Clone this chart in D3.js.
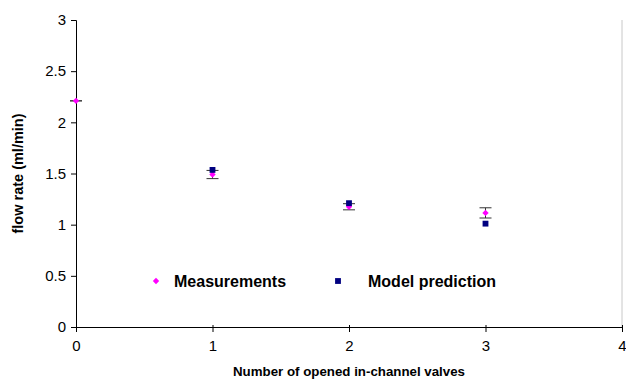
<!DOCTYPE html>
<html>
<head>
<meta charset="utf-8">
<script src="https://cdn.jsdelivr.net/npm/d3@7"></script>
<style>
  body { margin: 0; background: #fff; }
  svg { display: block; font-family: "Liberation Sans", Arial, sans-serif; }
</style>
</head>
<body>
<svg id="chart" width="626" height="381"></svg>
<script>
// Flow rate versus number of opened in-channel valves
const valves = [0, 1, 2, 3];
const measured = [2.21, 1.49, 1.175, 1.115];
const measuredErr = [0.0, 0.04, 0.03, 0.05];
const modelValves = [1, 2, 3];
const modelPred = [1.535, 1.21, 1.01];
const xTicks = [0, 1, 2, 3, 4];
const yTicks = [0, 0.5, 1, 1.5, 2, 2.5, 3];
const yTickLabels = ["0", "0.5", "1", "1.5", "2", "2.5", "3"];
const legendLabels = ["Measurements", "Model prediction"];

const svg = d3.select("#chart");
const plotLeft = 76, plotRight = 622, plotTop = 20, plotBottom = 327;

const x = d3.scaleLinear().domain([0, 4]).range([plotLeft, plotRight]);
const y = d3.scaleLinear().domain([0, 3]).range([plotBottom, plotTop]);

// light frame line on the right side of the plot area
svg.append("line")
  .attr("x1", x(4)).attr("x2", x(4))
  .attr("y1", y(3)).attr("y2", y(0))
  .attr("stroke", "#c8c8c8").attr("stroke-width", 1);

// y axis
const yAxis = d3.axisLeft(y).tickValues(yTicks)
  .tickFormat((d, i) => yTickLabels[i]).tickSize(5).tickPadding(5);
const gy = svg.append("g").attr("transform", `translate(${plotLeft},0)`).call(yAxis);
gy.select(".domain").attr("stroke", "#000");
gy.selectAll(".tick line").attr("stroke", "#000");
gy.selectAll("text").attr("font-size", 15).attr("fill", "#000")
  .attr("font-family", "Liberation Sans, Arial, sans-serif");

// x axis
const xAxis = d3.axisBottom(x).tickValues(xTicks)
  .tickFormat(d3.format("d")).tickSizeInner(5).tickSizeOuter(0).tickPadding(8);
const gx = svg.append("g").attr("transform", `translate(0,${plotBottom})`).call(xAxis);
gx.select(".domain").attr("stroke", "#000");
gx.selectAll(".tick line").attr("stroke", "#000").attr("y1", -2);
gx.selectAll("text").attr("font-size", 15).attr("fill", "#000")
  .attr("font-family", "Liberation Sans, Arial, sans-serif");

// axis titles
svg.append("text")
  .attr("transform", `translate(23,${(plotTop + plotBottom) / 2}) rotate(-90)`)
  .attr("text-anchor", "middle")
  .attr("font-size", 14.5).attr("font-weight", "bold")
  .text("flow rate (ml/min)");
svg.append("text")
  .attr("x", (plotLeft + plotRight) / 2).attr("y", 376)
  .attr("text-anchor", "middle")
  .attr("font-size", 13.3).attr("font-weight", "bold")
  .text("Number of opened in-channel valves");

// error bars for measurements
const eb = svg.append("g").attr("stroke", "#333").attr("stroke-width", 1);
valves.forEach((v, i) => {
  const cx = x(v), y1 = y(measured[i] + measuredErr[i]), y2 = y(measured[i] - measuredErr[i]);
  eb.append("line").attr("x1", cx).attr("x2", cx).attr("y1", y1).attr("y2", y2);
  eb.append("line").attr("x1", cx - 6).attr("x2", cx + 6).attr("y1", y1).attr("y2", y1);
  eb.append("line").attr("x1", cx - 6).attr("x2", cx + 6).attr("y1", y2).attr("y2", y2);
});

const diamond = d3.symbol().type(d3.symbolDiamond2).size(26);
const square = d3.symbol().type(d3.symbolSquare).size(34);

// measurement markers
svg.append("g").selectAll("path").data(valves).join("path")
  .attr("d", diamond)
  .attr("transform", (d, i) => `translate(${x(d)},${y(measured[i])})`)
  .attr("fill", "#ff00ff");

// model prediction markers
svg.append("g").selectAll("path").data(modelValves).join("path")
  .attr("d", square)
  .attr("transform", (d, i) => `translate(${x(d)},${y(modelPred[i])})`)
  .attr("fill", "#000080");

// legend
const lg = svg.append("g");
lg.append("path").attr("d", diamond).attr("transform", "translate(156,281)").attr("fill", "#ff00ff");
lg.append("text").attr("x", 174).attr("y", 287).attr("font-size", 16).attr("font-weight", "bold")
  .text(legendLabels[0]);
lg.append("path").attr("d", square).attr("transform", "translate(338,281)").attr("fill", "#000080");
lg.append("text").attr("x", 368).attr("y", 287).attr("font-size", 16).attr("font-weight", "bold")
  .text(legendLabels[1]);
</script>
</body>
</html>
